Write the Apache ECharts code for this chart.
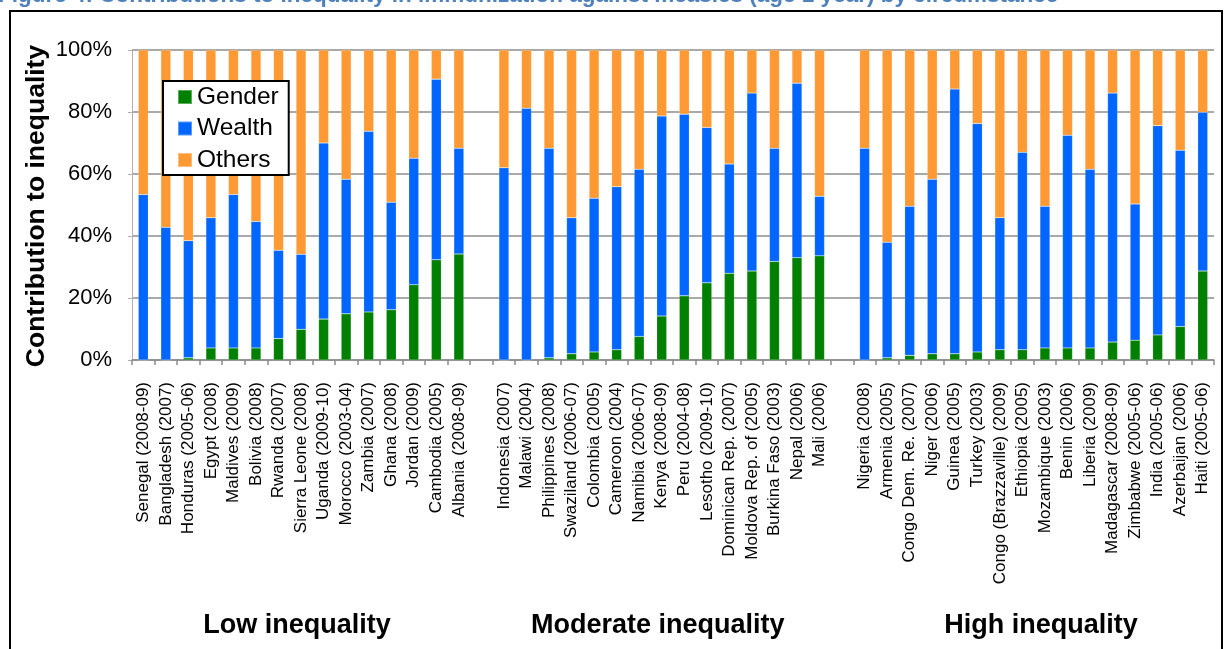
<!DOCTYPE html>
<html>
<head>
<meta charset="utf-8">
<script src="https://cdn.jsdelivr.net/npm/echarts@6/dist/echarts.min.js"></script>
<style>
html,body{margin:0;padding:0;background:#fff;}
#chart{width:1225px;height:649px;}
</style>
</head>
<body>
<div id="chart"></div>
<script>
// ---- Data ----
const lowCountries = ['Senegal (2008-09)','Bangladesh (2007)','Honduras (2005-06)','Egypt (2008)','Maldives (2009)','Bolivia (2008)','Rwanda (2007)','Sierra Leone (2008)','Uganda (2009-10)','Morocco (2003-04)','Zambia (2007)','Ghana (2008)','Jordan (2009)','Cambodia (2005)','Albania (2008-09)'];
const lowGender = [0,0,0.7,3.9,3.9,3.9,6.9,9.9,13.2,14.9,15.5,16.2,24.3,32.3,34.2];
const lowWealth = [53.4,42.8,37.8,42.0,49.5,40.8,28.5,24.2,56.8,43.4,58.3,34.7,40.8,58.3,34.1];
const lowOthers = [46.6,57.2,61.5,54.1,46.6,55.3,64.6,65.9,30.0,41.7,26.2,49.1,34.9,9.4,31.7];

const moderateCountries = ['Indonesia (2007)','Malawi (2004)','Philippines (2008)','Swaziland (2006-07)','Colombia (2005)','Cameroon (2004)','Namibia (2006-07)','Kenya (2008-09)','Peru (2004-08)','Lesotho (2009-10)','Dominican Rep. (2007)','Moldova Rep. of (2005)','Burkina Faso (2003)','Nepal (2006)','Mali (2006)'];
const moderateGender = [0,0,0.7,2.0,2.6,3.3,7.6,14.2,20.7,24.9,28.0,28.7,31.8,33.0,33.6];
const moderateWealth = [62.0,81.2,67.6,43.9,49.6,52.6,53.9,64.5,58.6,50.1,35.2,57.4,36.5,56.3,19.2];
const moderateOthers = [38.0,18.8,31.7,54.1,47.8,44.1,38.5,21.3,20.7,25.0,36.8,13.9,31.7,10.7,47.2];

const highCountries = ['Nigeria (2008)','Armenia (2005)','Congo Dem. Re. (2007)','Niger (2006)','Guinea (2005)','Turkey (2003)','Congo (Brazzaville) (2009)','Ethiopia (2005)','Mozambique (2003)','Benin (2006)','Liberia (2009)','Madagascar (2008-09)','Zimbabwe (2005-06)','India (2005-06)','Azerbaijan (2006)','Haiti (2005-06)'];
const highGender = [0,0.7,1.5,2.0,2.0,2.6,3.3,3.3,3.9,3.9,3.9,5.8,6.4,8.1,10.8,28.7];
const highWealth = [68.3,37.3,48.1,56.3,85.4,73.7,42.6,63.7,45.7,68.6,57.6,80.3,43.9,67.5,56.9,51.2];
const highOthers = [31.7,62.0,50.4,41.7,12.6,23.7,54.1,33.0,50.4,27.5,38.5,13.9,49.7,24.4,32.3,20.1];

const groupNames = ['Low inequality','Moderate inequality','High inequality'];
const seriesNames = ['Gender','Wealth','Others'];
const yTicks = [0,20,40,60,80,100];
const titleText = 'Figure 4: Contributions to inequality in immunization against measles (age 1 year) by circumstance';
const yAxisTitle = 'Contribution to inequality';

// ---- Build combined axis (one blank slot between groups) ----
const categories = [].concat(lowCountries, [''], moderateCountries, [''], highCountries);
const gender = [].concat(lowGender, ['-'], moderateGender, ['-'], highGender);
const wealth = [].concat(lowWealth, ['-'], moderateWealth, ['-'], highWealth);
const others = [].concat(lowOthers, ['-'], moderateOthers, ['-'], highOthers);
const groupMid = [
  (lowCountries.length - 1) / 2,
  lowCountries.length + 1 + (moderateCountries.length - 1) / 2,
  lowCountries.length + moderateCountries.length + 2 + (highCountries.length - 1) / 2
];

const FONT = '"Liberation Sans", Arial, sans-serif';
const colors = ['#008000', '#0066FF', '#FF9933'];

const chart = echarts.init(document.getElementById('chart'), null, {renderer: 'canvas'});

const option = {
  animation: false,
  backgroundColor: '#ffffff',
  color: colors,
  grid: {left: 132, right: 11, top: 50, bottom: 289, containLabel: false},
  legend: {
    orient: 'vertical',
    left: 163, top: 81,
    data: seriesNames,
    icon: 'rect',
    itemWidth: 14, itemHeight: 14,
    itemGap: 5.5,
    padding: [3, 10, 2, 14],
    borderColor: '#000', borderWidth: 2,
    backgroundColor: '#fff',
    textStyle: {fontFamily: FONT, fontSize: 24.5, color: '#000', lineHeight: 26}
  },
  xAxis: {
    type: 'category',
    data: categories,
    boundaryGap: true,
    axisLine: {lineStyle: {color: '#8c8c8c', width: 1.5}},
    axisTick: {show: true, interval: 0, length: 5, lineStyle: {color: '#8c8c8c', width: 1.5}},
    axisLabel: {interval: 0, rotate: 90, margin: 22, fontFamily: FONT, fontSize: 17, color: '#000'},
    splitLine: {show: false}
  },
  yAxis: {
    type: 'value',
    min: 0, max: 100, interval: 20,
    axisLine: {show: true, lineStyle: {color: '#b0b0b0', width: 1}},
    axisTick: {show: true, length: 4, lineStyle: {color: '#b0b0b0'}},
    axisLabel: {formatter: '{value}%', margin: 20, fontFamily: FONT, fontSize: 22, color: '#000'},
    splitLine: {show: true, lineStyle: {color: '#8c8c8c', width: 1.5}}
  },
  series: [
    {name: seriesNames[0], type: 'bar', stack: 'total', data: gender, barWidth: 10, itemStyle: {color: colors[0], borderColor: 'rgba(255,255,255,0.35)', borderWidth: 0.5}},
    {name: seriesNames[1], type: 'bar', stack: 'total', data: wealth, barWidth: 10, itemStyle: {color: colors[1], borderColor: 'rgba(255,255,255,0.35)', borderWidth: 0.5}},
    {name: seriesNames[2], type: 'bar', stack: 'total', data: others, barWidth: 10, itemStyle: {color: colors[2], borderColor: 'rgba(255,255,255,0.35)', borderWidth: 0.5}}
  ]
};
chart.setOption(option);

// ---- Annotations: frame, cut-off figure title, y title, group labels ----
const gTexts = groupNames.map(function (name, i) {
  const px = chart.convertToPixel({xAxisIndex: 0}, groupMid[i]);
  return {
    type: 'text', x: px - 4, y: 626,
    style: {text: name, fontFamily: FONT, fontWeight: 'bold', fontSize: 27, fill: '#000', align: 'center', verticalAlign: 'middle'}
  };
});

chart.setOption({
  graphic: [
    {type: 'rect', shape: {x: 10, y: 11, width: 1212, height: 700}, style: {fill: null, stroke: '#000', lineWidth: 2}, z: 100},
    {type: 'text', x: -2, y: -4, style: {text: titleText, fontFamily: FONT, fontWeight: 'bold', fontSize: 22.5, fill: '#4F81BD', align: 'left', verticalAlign: 'middle'}},
    {type: 'text', x: 37, y: 206, rotation: Math.PI / 2, style: {text: yAxisTitle, fontFamily: FONT, fontWeight: 'bold', fontSize: 26.5, fill: '#000', align: 'center', verticalAlign: 'middle'}}
  ].concat(gTexts)
});
</script>
</body>
</html>
